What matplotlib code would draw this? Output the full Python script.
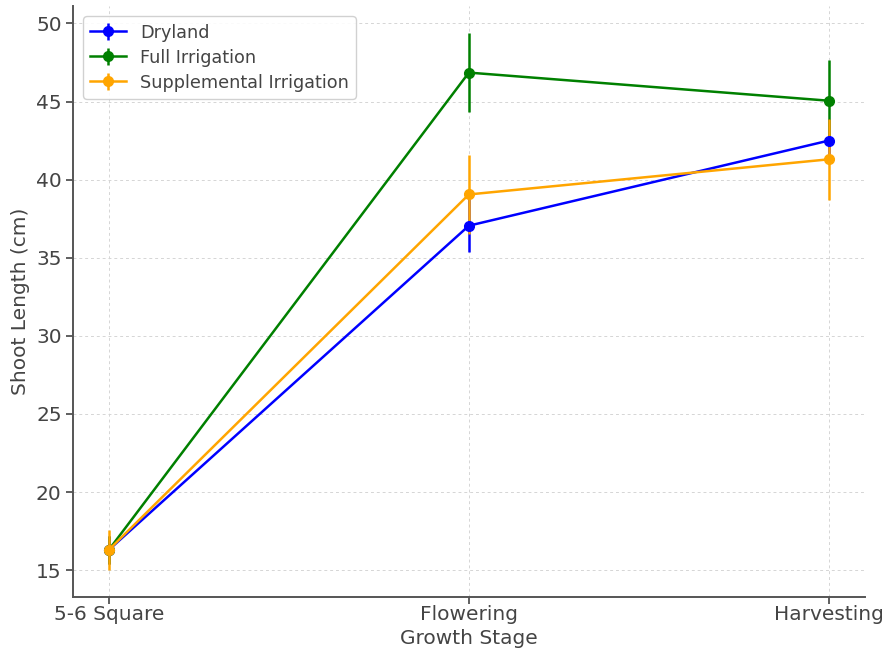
import matplotlib
matplotlib.use('Agg')
import matplotlib.pyplot as plt
import numpy as np

stages = ['5-6 Square', 'Flowering', 'Harvesting']

dryland = [16.3, 37.05, 42.5]
dryland_err = [0.9, 1.7, 1.4]

full_irr = [16.3, 46.85, 45.05]
full_irr_err = [0.9, 2.55, 2.6]

supp_irr = [16.3, 39.05, 41.3]
supp_irr_err = [1.3, 2.55, 2.6]

plt.rcParams['font.family'] = 'DejaVu Sans'
plt.rcParams['text.color'] = '#444444'
plt.rcParams['axes.labelcolor'] = '#444444'
plt.rcParams['xtick.color'] = '#444444'
plt.rcParams['ytick.color'] = '#444444'

fig = plt.figure(figsize=(8.88, 6.55), dpi=100)
ax = fig.add_axes([0.082, 0.0885, 0.892, 0.9025])

x = np.arange(len(stages))
ax.errorbar(x, dryland, yerr=dryland_err, fmt='-o', color='blue',
            lw=1.8, ms=7, label='Dryland')
ax.errorbar(x, full_irr, yerr=full_irr_err, fmt='-o', color='green',
            lw=1.8, ms=7, label='Full Irrigation')
ax.errorbar(x, supp_irr, yerr=supp_irr_err, fmt='-o', color='orange',
            lw=1.8, ms=7, label='Supplemental Irrigation')

ax.set_xticks(x)
ax.set_xticklabels(stages)
ax.set_xlabel('Growth Stage', fontsize=14.5, labelpad=3)
ax.set_ylabel('Shoot Length (cm)', fontsize=14.5)
ax.tick_params(labelsize=14.5, width=1.2, length=5, pad=3)
ax.tick_params(axis='x', pad=1)

ax.grid(True, linestyle=(0, (3, 3)), color='#d5d5d5', lw=0.7)
for side in ['top', 'right']:
    ax.spines[side].set_visible(False)
for side in ['left', 'bottom']:
    ax.spines[side].set_color('#555555')
    ax.spines[side].set_linewidth(1.4)

leg = ax.legend(loc='upper left', fontsize=12.7, framealpha=0.9,
                borderaxespad=0.6, labelspacing=0.4)
leg.get_frame().set_edgecolor('#cccccc')

fig.savefig('out.png', dpi=100)
